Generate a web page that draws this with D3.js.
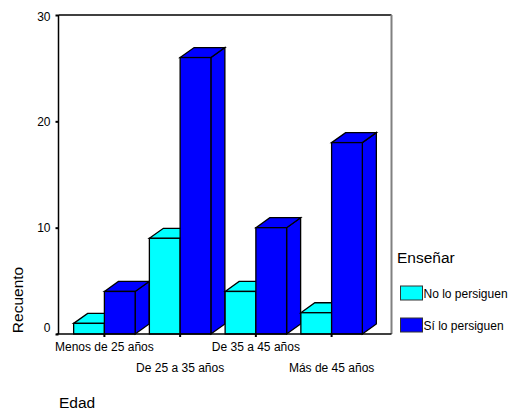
<!DOCTYPE html>
<html>
<head>
<meta charset="utf-8">
<script src="https://cdn.jsdelivr.net/npm/d3@7"></script>
<style>
  html, body { margin: 0; padding: 0; background: #fff; }
  svg { display: block; font-family: "Liberation Sans", Arial, sans-serif; }
</style>
</head>
<body>
<svg id="chart" width="509" height="412"></svg>
<script>
// Recuento por grupo de edad y respuesta a "Enseñar"
const categories = ["Menos de 25 años", "De 25 a 35 años", "De 35 a 45 años", "Más de 45 años"];
const seriesNames = ["No lo persiguen", "Sí lo persiguen"];
const noLoPersiguen = [1, 9, 4, 2];
const siLoPersiguen = [4, 26, 10, 18];
const yTicks = [0, 10, 20, 30];
const colors = ["#00FFFF", "#0000FF"];

const svg = d3.select("#chart");
const plot = { left: 58.5, right: 391.5, top: 15, bottom: 334 };
const depth = { dx: 14, dy: 10 };

const y = d3.scaleLinear().domain([0, 30]).range([plot.bottom, plot.top]);
const x = d3.scaleBand().domain(categories)
  .range([plot.left, plot.right - depth.dx])
  .paddingInner(0.188).paddingOuter(0.2);
const xs = d3.scaleBand().domain(seriesNames).range([0, x.bandwidth()]);

const rows = [];
categories.forEach((c, i) => {
  rows.push({ cat: c, s: 0, v: noLoPersiguen[i] });
  rows.push({ cat: c, s: 1, v: siLoPersiguen[i] });
});

// frame: top black, right grey
svg.append("line").attr("x1", plot.left).attr("x2", plot.right)
  .attr("y1", plot.top).attr("y2", plot.top).attr("stroke", "#000").attr("stroke-width", 1.5);
svg.append("line").attr("x1", plot.right).attr("x2", plot.right)
  .attr("y1", plot.top).attr("y2", plot.bottom).attr("stroke", "#808080").attr("stroke-width", 2);

// 3D bars, drawn left to right so each front face covers the previous side face
const bars = svg.append("g").attr("stroke", "#000").attr("stroke-width", 1.3).attr("stroke-linejoin", "miter");
rows.forEach(d => {
  const x0 = x(d.cat) + xs(seriesNames[d.s]);
  const x1 = x0 + xs.bandwidth();
  const yt = y(d.v), yb = y(0);
  const g = bars.append("g").attr("fill", colors[d.s]);
  // side face
  g.append("path").attr("d", `M${x1},${yb}L${x1 + depth.dx},${yb - depth.dy}L${x1 + depth.dx},${yt - depth.dy}L${x1},${yt}Z`);
  // top face
  g.append("path").attr("d", `M${x0},${yt}L${x0 + depth.dx},${yt - depth.dy}L${x1 + depth.dx},${yt - depth.dy}L${x1},${yt}Z`);
  // front face
  g.append("rect").attr("x", x0).attr("y", yt).attr("width", x1 - x0).attr("height", yb - yt);
});

// axes
const yAxis = svg.append("g").attr("transform", `translate(${plot.left},0)`)
  .call(d3.axisLeft(y).tickValues(yTicks).tickSize(3).tickPadding(5).tickFormat(d3.format("d")));
yAxis.select(".domain").attr("stroke-width", 1.5).attr("d", `M0,${plot.top}V${plot.bottom}`);
yAxis.selectAll(".tick line").attr("stroke-width", 2);
yAxis.selectAll(".tick text").attr("font-size", 12).attr("fill", "#000")
  .attr("font-family", "Liberation Sans, Arial, sans-serif")
  .attr("dy", d => d === 0 ? "-0.2em" : (d === 30 ? "0.48em" : "0.32em"));

const xAxis = svg.append("g").attr("transform", `translate(0,${plot.bottom})`)
  .call(d3.axisBottom(x).tickSize(3).tickPadding(5).tickSizeOuter(0));
xAxis.select(".domain").attr("stroke-width", 1.5).attr("d", `M${plot.left - 2},0H${plot.right}`);
xAxis.selectAll(".tick line").attr("stroke-width", 2)
  .attr("transform", `translate(${-x.bandwidth() / 2 + xs.bandwidth()},0)`);
xAxis.selectAll(".tick text").attr("font-size", 12).attr("fill", "#000")
  .attr("font-family", "Liberation Sans, Arial, sans-serif")
  .attr("y", (d, i) => i % 2 === 0 ? 8 : 29).attr("dy", "0.71em");

// axis titles
svg.append("text").attr("transform", "translate(23,300) rotate(-90)")
  .attr("text-anchor", "middle").attr("font-size", 15.5).text("Recuento");
svg.append("text").attr("x", 59).attr("y", 408).attr("font-size", 15.5).text("Edad");

// legend
const legend = svg.append("g");
legend.append("text").attr("x", 397).attr("y", 263).attr("font-size", 15.5).text("Enseñar");
const legY = [286, 318];
seriesNames.forEach((s, i) => {
  legend.append("rect").attr("x", 400.5).attr("y", legY[i]).attr("width", 22).attr("height", 14)
    .attr("fill", colors[i]).attr("stroke", "#333").attr("stroke-width", 1);
  legend.append("text").attr("x", 423.5).attr("y", legY[i] + 11.5).attr("font-size", 12).text(s);
});
</script>
</body>
</html>
